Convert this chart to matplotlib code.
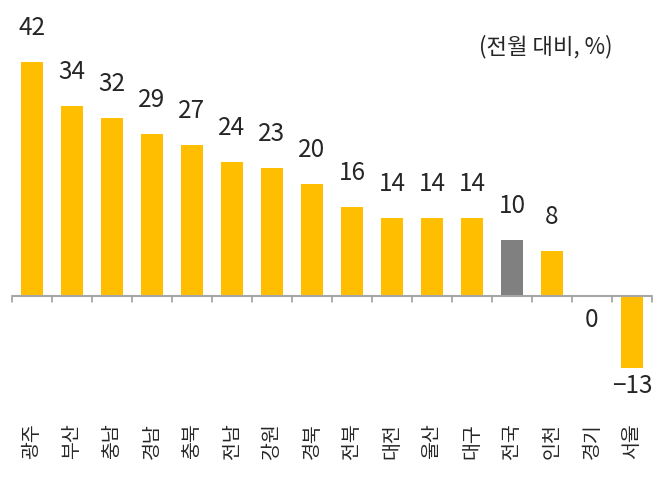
import matplotlib
matplotlib.use("Agg")
import matplotlib.pyplot as plt
import matplotlib.transforms as mtransforms

plt.rcParams['font.family'] = ['Noto Sans CJK KR', 'DejaVu Sans']

regions = ["광주", "부산", "충남", "경남", "충북", "전남", "강원", "경북",
           "전북", "대전", "울산", "대구", "전국", "인천", "경기", "서울"]
values = [42, 34, 32, 29, 27, 24, 23, 20, 16, 14, 14, 14, 10, 8, 0, -13]
highlight = "전국"
unit_label = "(전월 대비, %)"

YELLOW = "#FFBF00"
GRAY = "#808080"
AXIS = "#A6A6A6"
TEXT = "#262626"

W, H = 659, 483
fig = plt.figure(figsize=(W / 100, H / 100), dpi=100)
ax = fig.add_axes([12 / W, (H - 400) / H, 640 / W, 390 / H])

colors = [GRAY if r == highlight else YELLOW for r in regions]
x = list(range(len(regions)))
ax.bar(x, values, width=0.55, color=colors, zorder=2)

ax.set_xlim(-0.5, len(regions) - 0.5)
ax.set_ylim(-18.7, 51.3)

for s in ax.spines.values():
    s.set_visible(False)
ax.axhline(0, color=AXIS, lw=1.5, zorder=3)
ax.set_yticks([])
ax.set_xticks([])

# boundary tick marks hanging from the zero line
for i in range(len(regions) + 1):
    ax.annotate("", xy=(i - 0.5, 0), xytext=(0, -6), textcoords='offset pixels',
                arrowprops=dict(arrowstyle='-', color=AXIS, lw=1.3,
                                shrinkA=0, shrinkB=0))

for i, v in enumerate(values):
    if v > 0:
        ax.annotate(f"{v}", xy=(i, v), xytext=(0, 27), textcoords='offset pixels',
                    ha='center', va='baseline', fontsize=17.5, color=TEXT,
                    fontweight='light')
    else:
        lab = f"\u2212{abs(v)}" if v < 0 else "0"
        ax.annotate(lab, xy=(i, v), xytext=(0, -25 if v < 0 else -31),
                    textcoords='offset pixels', ha='center', va='baseline',
                    fontsize=17.5, color=TEXT, fontweight='light')

blend = mtransforms.blended_transform_factory(ax.transData, fig.transFigure)
for i, r in enumerate(regions):
    ax.text(i, (H - 423) / H, r, rotation=90, ha='center', va='top',
            fontsize=14, color=TEXT, transform=blend, fontweight='light')

fig.text(546 / W, (H - 53) / H, unit_label, ha='center', va='baseline',
         fontsize=16, color=TEXT, fontweight='light')

fig.savefig("out.png", dpi=100)
